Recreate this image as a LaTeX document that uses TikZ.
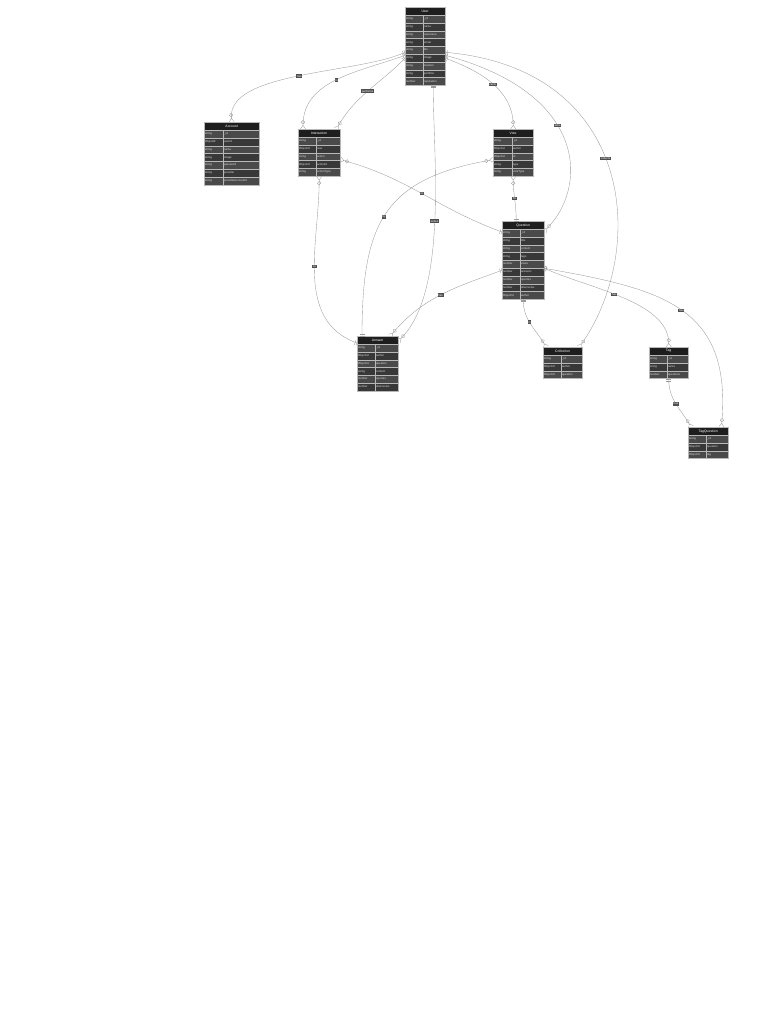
\documentclass[tikz,border=0pt]{standalone}
\usepackage{fontspec}
\setmainfont{Liberation Sans}
\usetikzlibrary{arrows.meta,calc}

\definecolor{headfill}{HTML}{1E1E1E}
\definecolor{oddfill}{HTML}{4A4A4A}
\definecolor{evenfill}{HTML}{383838}
\definecolor{cellline}{HTML}{B8B8B8}
\definecolor{celltext}{HTML}{DDDDDD}
\definecolor{edgeline}{HTML}{9A9A9A}
\definecolor{labelfill}{HTML}{4F4F4F}

\tikzset{
  erhead/.style={fill=headfill, draw=cellline, line width=0.25pt, text=white, font=\fontsize{3.4}{4}\selectfont, minimum height=8pt, inner sep=0pt, anchor=north west},
  ercell/.style={draw=cellline, line width=0.25pt, text=celltext, font=\fontsize{2.8}{3.2}\selectfont, minimum height=7.8pt, inner xsep=1pt, inner ysep=0pt, text height=2.1pt, text depth=0.6pt, align=left, anchor=north west},
  erlink/.style={draw=edgeline, line width=0.35pt, {Bar[width=5pt]Bar[width=5pt,sep=1.4pt]}-{Circle[open,length=4pt,sep=0.8pt]Straight Barb[reversed,length=3.5pt,width=5pt]}},
  erlabel/.style={fill=labelfill, text=white, font=\fontsize{2.8}{3}\selectfont, inner sep=0.7pt}
}

% #1 name, #2 title, #3 top left, #4 type width, #5 field width, #6 rows, #7 row count
\newcommand{\erentity}[7]{
  \pgfmathsetmacro{\hw}{#4+#5}
  \pgfmathsetmacro{\tw}{#4-2}
  \pgfmathsetmacro{\fw}{#5-2}
  \pgfmathsetmacro{\bh}{8+#7*7.8}
  \node[inner sep=0pt, minimum width=\hw pt, minimum height=\bh pt, anchor=north west] (#1) at #3 {};
  \node[erhead, minimum width=\hw pt] (#1-h) at #3 {#2};
  \foreach \ty/\fd [count=\i] in {#6} {
    \pgfmathsetmacro{\rowy}{8+(\i-1)*7.8}
    \ifodd\i\relax\def\rowfill{oddfill}\else\def\rowfill{evenfill}\fi
    \node[ercell, fill=\rowfill, text width=\tw pt] (#1-t\i) at ($#3+(0,-\rowy)$) {\ty};
    \node[ercell, fill=\rowfill, text width=\fw pt] (#1-f\i) at ($#3+(#4,-\rowy)$) {\fd};
  }
}

\begin{document}
\begin{tikzpicture}[x=1pt, y=1pt]
\useasboundingbox (0,0) rectangle (768,-1024);

\erentity{user}{User}{(405,-7)}{18}{22}{string/\_id, string/name, string/username, string/email, string/bio, string/image, string/location, string/portfolio, number/reputation}{9}
\erentity{account}{Account}{(204,-122)}{19}{36}{string/\_id, ObjectId/userId, string/name, string/image, string/password, string/provider, string/providerAccountId}{7}
\erentity{interaction}{Interaction}{(298,-129)}{18}{24}{string/\_id, ObjectId/user, string/action, ObjectId/actionId, string/actionType}{5}
\erentity{vote}{Vote}{(493,-129)}{19}{21}{string/\_id, ObjectId/author, ObjectId/id, string/type, string/voteType}{5}
\erentity{question}{Question}{(502,-221)}{18}{24}{string/\_id, string/title, string/content, string/tags, number/views, number/answers, number/upvotes, number/downvotes, ObjectId/author}{9}
\erentity{answer}{Answer}{(357,-336)}{18}{23}{string/\_id, ObjectId/author, ObjectId/question, string/content, number/upvotes, number/downvotes}{6}
\erentity{collection}{Collection}{(543,-347)}{18}{21}{string/\_id, ObjectId/author, ObjectId/question}{3}
\erentity{tag}{Tag}{(649,-347)}{18}{21}{string/\_id, string/name, number/questions}{3}
\erentity{tagquestion}{TagQuestion}{(688,-427)}{18}{22}{string/\_id, ObjectId/question, ObjectId/tag}{3}

\draw[erlink] ([yshift=-6pt]user.west) to[out=205, in=95, looseness=0.7] node[erlabel, pos=0.5] {has} (account.north);
\draw[erlink] ([yshift=-9pt]user.west) to[out=200, in=90] node[erlabel, pos=0.5] {is} ([xshift=5pt]interaction.north west);
\draw[erlink] ([yshift=-12pt]user.west) to[out=225, in=60] node[erlabel, pos=0.5] {performs} ([xshift=-4pt]interaction.north east);
\draw[erlink] ([xshift=8pt]user.south) to[out=-90, in=45, looseness=0.7] node[erlabel, pos=0.5] {writes} ([yshift=-5pt]answer.north east);
\draw[erlink] ([yshift=-12pt]user.east) to[out=-20, in=90] node[erlabel, pos=0.5] {casts} (vote.north);
\draw[erlink] ([yshift=-9pt]user.east) to[out=-15, in=45, out distance=150pt, in distance=60pt] node[erlabel, pos=0.42] {asks} ([yshift=-10pt]question.north east);
\draw[erlink] ([yshift=-6pt]user.east) to[out=-5, in=55, out distance=190pt, in distance=120pt] node[erlabel, pos=0.47] {collects} ([xshift=-3pt]collection.north east);
\draw[erlink] ([yshift=-11pt]question.north west) to[out=160, in=-15] node[erlabel, pos=0.5] {on} ([yshift=-7pt]interaction.east);
\draw[erlink] ([yshift=-7pt]answer.north west) to[out=160, in=-90] node[erlabel, pos=0.55] {on} (interaction.south);
\draw[erlink] ([xshift=-7pt]question.north) to[out=90, in=-90] node[erlabel, pos=0.5] {for} (vote.south);
\draw[erlink] ([xshift=5pt]answer.north west) to[out=90, in=190, looseness=1.3] node[erlabel, pos=0.48] {by} ([yshift=-7pt]vote.west);
\draw[erlink] ([yshift=-10pt]question.west) to[out=200, in=50] node[erlabel, pos=0.5] {has} ([xshift=-8pt]answer.north east);
\draw[erlink] (question.south) to[out=-90, in=120] node[erlabel, pos=0.45] {in} ([xshift=3pt]collection.north west);
\draw[erlink] ([yshift=-8pt]question.east) to[out=-25, in=90, looseness=0.8] node[erlabel, pos=0.45] {has} (tag.north);
\draw[erlink] ([yshift=-8pt]question.east) to[out=-10, in=85, looseness=1.3] node[erlabel, pos=0.5] {has} ([xshift=-7pt]tagquestion.north east);
\draw[erlink] (tag.south) to[out=-90, in=120] node[erlabel, pos=0.5] {has} ([xshift=3pt]tagquestion.north west);
\end{tikzpicture}
\end{document}
